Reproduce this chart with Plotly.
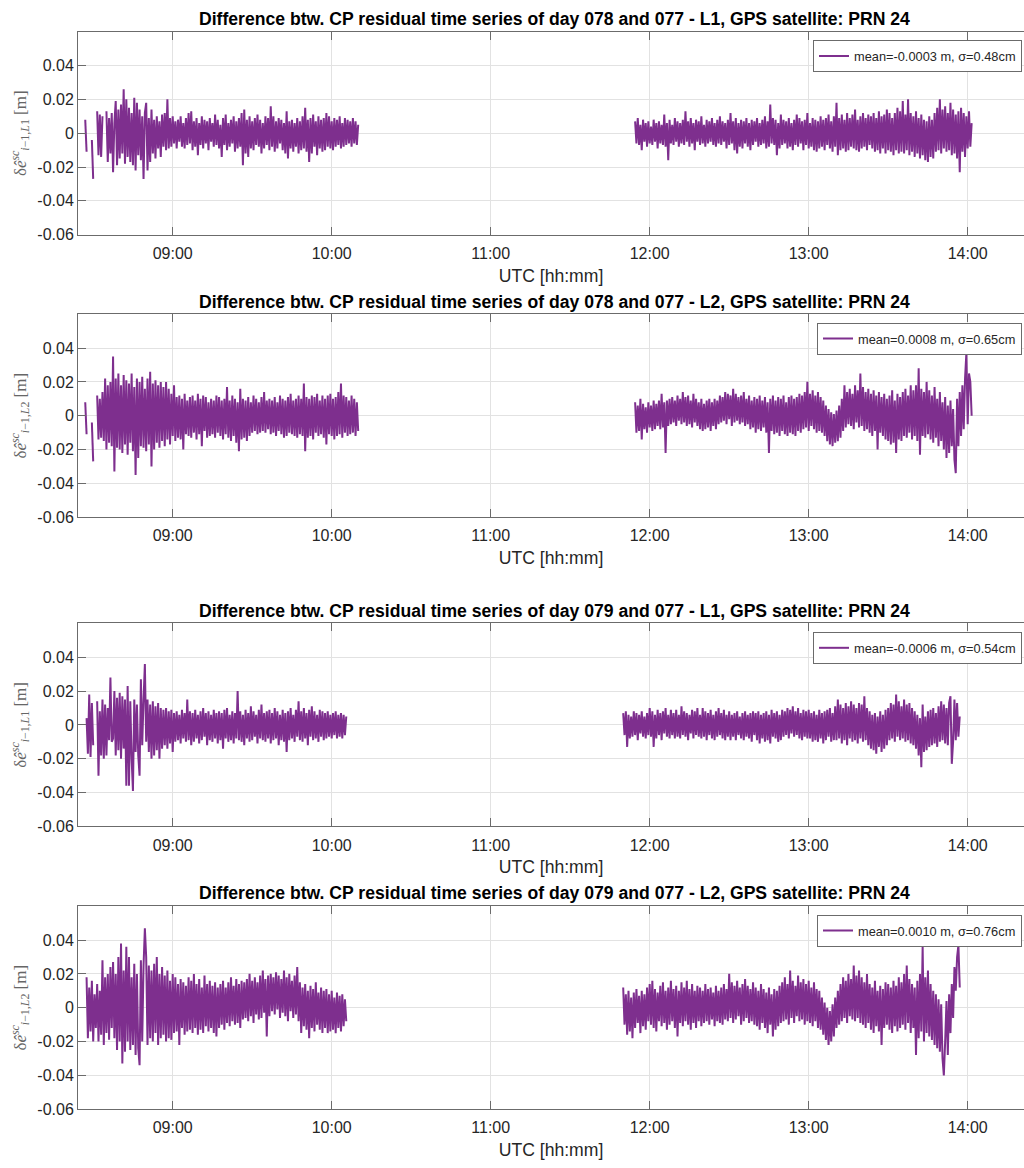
import numpy as np
import pandas as pd
import plotly.graph_objects as go

DAY = "2019-03-19"
STEP = "30s"

titles = [
    "Difference btw. CP residual time series of day 078 and 077 - L1, GPS satellite: PRN 24",
    "Difference btw. CP residual time series of day 078 and 077 - L2, GPS satellite: PRN 24",
    "Difference btw. CP residual time series of day 079 and 077 - L1, GPS satellite: PRN 24",
    "Difference btw. CP residual time series of day 079 and 077 - L2, GPS satellite: PRN 24",
]
legend_labels = [
    "mean=-0.0003 m, σ=0.48cm",
    "mean=0.0008 m, σ=0.65cm",
    "mean=-0.0006 m, σ=0.54cm",
    "mean=0.0010 m, σ=0.76cm",
]
signals = ["L1", "L2", "L1", "L2"]
x_title = "UTC [hh:mm]"
x_tick_labels = ["09:00", "10:00", "11:00", "12:00", "13:00", "14:00"]
y_tick_values = [-0.06, -0.04, -0.02, 0, 0.02, 0.04]
y_tick_labels = ["-0.06", "-0.04", "-0.02", "0", "0.02", "0.04"]

seg_a_start = ["08:27:00", "08:27:00", "08:27:30", "08:27:30"]
seg_b_start = ["11:54:30", "11:54:30", "11:50:00", "11:50:00"]

# residual differences in millimetres, one value every 30 s (None = no data)
p1_a = [8, -11, None, None, None, -4, -27, None, None, 13, -13, 11, -14, 10, None, None, 13, -17, 9, -12,
        12, -23, 6, 19, -19, 14, -15, 17, -12, 26, -18, 20, -14, 15, -17, 12, -19, 21, -22, 18,
        -13, 14, -16, 10, -27, 12, 18, -22, 9, -17, 14, -12, 8, -15, 10, -9, 7, -14, 11, -8,
        12, -10, 20, -9, 9, -8, 10, -6, 7, -9, 8, -5, 10, -8, 6, -9, 9, -7, 12, -6,
        13, -10, 7, -8, 9, -13, 6, -7, 10, -9, 8, -6, 7, -10, 9, -5, 6, -8, 11, -7,
        8, -9, 5, -14, 9, -7, 11, -10, 6, -8, 8, -6, 10, -11, 7, -9, 9, -8, 12, -19,
        14, -12, 8, -14, 10, -9, 7, -10, 9, -7, 11, -8, 8, -12, 6, -9, 10, -7, 9, -10,
        16, -8, 10, -11, 7, -9, 9, -6, 8, -10, 6, -12, 13, -15, 7, -9, 8, -11, 6, -8,
        9, -12, 7, -10, 10, -9, 15, -11, 8, -17, 9, -12, 11, -8, 7, -13, 10, -9, 8, -11,
        9, -10, 12, -8, 10, -9, 7, -10, 9, -8, 8, -7, 10, -9, 6, -8, 9, -7, 8, -6,
        7, -8, 9, -6, 7, -7, 5]
p1_b = [7, -6, 9, -7, 5, -10, 8, -5, 6, -8, 7, -6, 4, -7, 8, -5, 6, -9, 7, -6,
        5, -7, 11, -8, 6, -16, 8, -6, 5, -7, 9, -5, 7, -8, 6, -6, 8, -7, 13, -5,
        7, -8, 9, -6, 6, -10, 8, -5, 7, -7, 10, -6, 5, -8, 8, -6, 7, -5, 9, -7,
        6, -8, 8, -6, 10, -7, 7, -5, 6, -9, 8, -7, 12, -6, 7, -10, 9, -12, 6, -8,
        8, -9, 7, -6, 9, -8, 6, -10, 8, -7, 7, -5, 9, -8, 6, -7, 8, -6, 10, -9,
        7, -8, 17, -6, 9, -7, 8, -13, 6, -9, 11, -7, 8, -6, 7, -9, 9, -8, 6, -10,
        8, -7, 11, -8, 9, -6, 7, -10, 8, -7, 12, -9, 6, -8, 9, -10, 8, -11, 7, -9,
        10, -8, 8, -10, 9, -7, 11, -9, 7, -11, 10, -8, 18, -13, 9, -10, 11, -9, 8, -11,
        12, -10, 9, -8, 11, -9, 14, -10, 8, -11, 10, -9, 12, -8, 9, -10, 11, -7, 10, -9,
        12, -11, 9, -10, 13, -12, 10, -9, 11, -12, 14, -10, 12, -11, 9, -13, 12, -10, 15, -12,
        13, -11, 19, -12, 11, -10, 20, -13, 12, -11, 10, -14, 13, -12, 9, -15, 11, -13, 8, -16,
        7, -17, 10, -14, 8, -15, 12, -11, 15, -10, 20, -12, 14, -9, 16, -11, 12, -10, 18, -13,
        14, -12, 11, -15, 13, -23, 15, -11, 12, -14, 10, -9, 13, -8, 6]

p2_a = [8, -11, None, None, None, -4, -27, None, None, 12, -14, 10, -13, 14, -15, 22, -20, 18, -16, 20,
        -18, 35, -33, 22, -19, 25, -20, 18, -22, 24, -17, 21, -23, 19, -16, 25, -21, 17, -35, 22,
        -25, 20, -18, 23, -19, 16, -21, 22, -17, 26, -30, 19, -20, 21, -16, 18, -19, 20, -15, 17,
        -18, 20, -14, 16, -17, 13, -12, 18, -15, 11, -13, 12, -14, 10, -20, 13, -11, 9, -12, 11,
        -13, 12, -10, 9, -14, 13, -11, 10, -18, 12, -9, 11, -13, 8, -12, 10, -11, 9, -13, 12,
        -10, 11, -12, 9, -14, 10, -11, 17, -13, 9, -15, 12, -12, 10, -16, 8, -21, 16, -14, 10,
        -13, 9, -15, 11, -12, 8, -10, 12, -9, 10, -11, 8, -10, 11, -9, 14, -10, 9, -8, 10,
        -11, 9, -10, 11, -12, 8, -9, 12, -11, 10, -13, 9, -12, 11, -10, 13, -11, 9, -12, 10,
        -13, 12, -11, 10, -12, 19, -21, 11, -13, 10, -12, 12, -14, 11, -10, 13, -12, 9, -11, 12,
        -13, 10, -17, 12, -11, 13, -12, 10, -14, 11, -12, 14, -11, 19, -13, 12, -10, 11, -12, 9,
        -11, 12, -10, 10, -12, 8, -9]
p2_b = [8, -10, 6, -9, 10, -14, 7, -8, 5, -10, 8, -7, 6, -9, 9, -8, 7, -6, 9, -8,
        13, -7, 8, -22, 9, -6, 10, -5, 11, -4, 9, -6, 12, -3, 10, -5, 14, -4, 11, -6,
        12, -5, 9, -7, 13, -4, 10, -6, 8, -8, 10, -9, 7, -8, 9, -7, 10, -9, 8, -6,
        10, -8, 9, -5, 12, -4, 11, -3, 14, -5, 13, -2, 12, -6, 16, -4, 13, -3, 11, -5,
        12, -4, 14, -6, 10, -5, 12, -8, 9, -7, 11, -10, 10, -8, 12, -9, 9, -7, 11, -10,
        8, -22, 10, -9, 12, -11, 9, -10, 11, -12, 10, -9, 12, -11, 8, -12, 11, -10, 12, -11,
        10, -12, 11, -9, 13, -10, 12, -8, 14, -7, 20, -9, 13, -6, 15, -8, 12, -10, 14, -9,
        11, -10, 9, -12, 6, -15, 4, -17, 2, -18, 1, -16, 3, -15, 6, -13, 10, -9, 18, -7,
        14, -5, 16, -6, 13, -8, 18, -4, 15, -7, 25, -6, 17, -9, 14, -8, 16, -10, 13, -12,
        15, -9, 12, -20, 14, -10, 11, -12, 13, -14, 10, -15, 12, -17, 15, -16, 9, -22, 13, -14,
        11, -15, 14, -12, 16, -13, 12, -10, 18, -14, 15, -12, 18, -15, 28, -23, 16, -12, 14, -13,
        20, -11, 15, -14, 12, -16, 17, -13, 10, -18, 14, -15, 8, -20, 11, -25, 6, -22, 9, -18,
        4, -26, -34, 10, -18, 14, -12, 18, -8, 22, 37, -5, 25, 20, 0]

p3_a = [4, -17, 18, -19, 13, -12, None, None, 14, -30, 8, -18, 15, -20, 12, -18, 10, -9, 28, -10,
        -8, 20, -18, 16, -15, 19, -20, 17, -14, 15, -36, 23, -36, 14, -20, -39, 15, -16, 12, -18,
        -30, 27, -12, 15, 36, -10, 15, -16, 12, -20, 14, -18, 11, -15, 13, -20, 10, -14, 9, -12,
        10, -14, 8, -11, 9, -16, 7, -10, 8, -9, 6, -11, 9, -8, 7, -10, 15, -9, 8, -12,
        7, -10, 9, -8, 6, -11, 8, -9, 10, -7, 7, -12, 8, -9, 6, -10, 9, -8, 7, -11,
        8, -9, 7, -14, 9, -8, 10, -10, 6, -9, 8, -11, 7, -8, 20, -9, 8, -10, 6, -12,
        9, -8, 7, -10, 11, -9, 8, -7, 6, -11, 9, -8, 12, -9, 7, -10, 8, -8, 9, -11,
        7, -9, 10, -8, 8, -12, 6, -9, 9, -10, 7, -16, 8, -9, 10, -8, 6, -10, 9, -7,
        14, -9, 8, -10, 10, -8, 7, -12, 9, -7, 11, -9, 8, -8, 6, -10, 9, -7, 8, -9,
        7, -8, 8, -7, 6, -8, 7, -6, 8, -8, 6, -7, 7, -8, 6, -6, 5]
p3_b = [7, -6, 8, -13, 6, -8, 5, -7, 8, -6, 7, -9, 6, -5, 8, -7, 5, -8, 7, -6,
        10, -7, 8, -13, 6, -8, 9, -6, 7, -9, 8, -5, 10, -7, 6, -8, 9, -6, 7, -8,
        9, -7, 6, -8, 11, -6, 8, -7, 7, -9, 6, -5, 9, -8, 8, -6, 10, -7, 6, -8,
        10, -7, 8, -9, 7, -6, 9, -8, 6, -9, 8, -7, 10, -6, 7, -8, 9, -9, 6, -7,
        8, -9, 6, -7, 7, -9, 8, -6, 5, -8, 7, -9, 8, -7, 6, -8, 7, -10, 8, -6,
        7, -9, 8, -11, 6, -8, 7, -10, 8, -9, 6, -11, 9, -7, 7, -8, 8, -10, 6, -9,
        9, -7, 8, -6, 10, -8, 9, -5, 11, -7, 8, -6, 10, -8, 7, -9, 9, -7, 8, -8,
        9, -8, 7, -10, 8, -9, 6, -10, 9, -8, 7, -11, 8, -9, 9, -7, 10, -10, 7, -9,
        11, -9, 15, -8, 12, -11, 10, -9, 13, -12, 11, -8, 14, -10, 12, -9, 10, -11, 13, -8,
        12, -10, 17, -9, 10, -12, 8, -14, 6, -15, 7, -17, 5, -13, 8, -16, 6, -14, 9, -12,
        10, -9, 13, -8, 12, -10, 18, -7, 14, -9, 11, -8, 15, -10, 12, -9, 13, -11, 10, -12,
        8, -14, 6, -18, 4, -25, 12, -16, 5, -15, 8, -13, 9, -12, 10, -11, 7, -13, 11, -10,
        14, -9, 12, -11, 10, -12, 13, 17, -23, -10, 15, -9, 13, -7, 5]

p4_a = [18, -18, 12, -14, 16, -20, 8, -12, 14, -20, 10, -16, 28, -22, 18, -15, 20, -19, 24, -12,
        27, -18, 20, -25, 30, -20, 38, -33, 22, -26, 36, -20, 30, -25, 18, -22, 26, -28, 20, -24,
        -34, 28, -20, 25, 47, 30, -22, 25, -18, 22, -20, 26, -15, 30, -22, 20, -18, 24, -16, 19,
        -20, 22, -18, 16, -19, 20, -15, 18, -14, 14, -22, 17, -12, 15, -16, 13, -14, 18, -13, 16,
        -15, 20, -12, 14, -16, 17, -13, 12, -15, 19, -11, 14, -14, 16, -12, 13, -15, 15, -17, 12,
        -12, 14, -10, 16, -13, 12, -9, 15, -11, 18, -8, 13, -10, 17, -9, 14, -12, 16, -7, 15,
        -6, 17, -8, 20, -5, 16, -9, 18, -4, 15, -7, 19, -6, 22, -3, 17, -17, 19, -5, 20,
        -2, 18, -4, 21, -1, 19, -6, 17, -3, 22, -5, 18, -8, 20, -2, 16, -6, 19, -4, 24,
        -8, 15, -15, 12, -11, 14, -13, 10, -18, 13, -12, 11, -14, 15, -10, 9, -13, 12, -15, 10,
        -12, 11, -15, 8, -14, 10, -13, 6, -15, 9, -12, 7, -14, 8, -11, 5, -8]
p4_b = [12, -10, 8, -16, 10, -14, 6, -18, 9, -12, 11, -9, 7, -15, 10, -11, 8, -13, 12, -8,
        14, -10, 16, -12, 11, -14, 9, -8, 13, -11, 15, -9, 10, -13, 12, -10, 16, -8, 11, -12,
        13, -17, 10, -9, 15, -11, 12, -8, 16, -10, 11, -13, 14, -9, 10, -12, 13, -8, 12, -11,
        10, -9, 14, -8, 11, -10, 12, -7, 9, -11, 13, -8, 10, -9, 12, -10, 14, -7, 11, -8,
        20, -6, 15, -9, 13, -7, 16, -5, 12, -10, 14, -8, 17, -6, 13, -9, 11, -8, 15, -10,
        12, -11, 10, -13, 14, -9, 11, -12, 9, -15, 12, -10, 8, -17, 11, -13, 10, -11, 13, -9,
        15, -8, 18, -7, 14, -10, 22, -6, 16, -9, 13, -5, 19, -8, 15, -7, 17, -10, 14, -8,
        16, -9, 12, -11, 15, -8, 11, -12, 10, -13, 6, -16, 3, -19, 0, -22, -2, -20, 2, -17,
        6, -12, 10, -10, 14, -8, 18, -6, 16, -9, 20, -5, 17, -7, 25, -8, 19, -6, 22, -9,
        18, -10, 15, -12, 20, -9, 14, -13, 12, -15, 16, -11, 10, -14, 13, -22, 11, -12, 15, -10,
        14, -13, 12, -15, 16, -11, 13, -14, 18, -12, 15, -10, 20, -13, 25, -9, 17, -15, 14, -12,
        12, -28, 16, -18, 20, -14, 36, -20, 18, -15, 22, -17, 14, -19, 10, -22, 8, -24, 5, -26,
        2, -30, -40, -20, 4, -28, 8, -15, 14, -6, 24, 10, 30, 37, 12]

series_a = [p1_a, p2_a, p3_a, p4_a]
series_b = [p1_b, p2_b, p3_b, p4_b]

# ---------------- styling / layout ----------------
W, H = 1024, 1168
FONT = "Liberation Sans, Arial, Helvetica, sans-serif"
SERIF = "Liberation Serif, Times New Roman, serif"
LINE_COLOR = "#7E2F8E"
AX_COLOR = "#6b6b6b"
GRID_COLOR = "#e2e2e2"
TEXT_COLOR = "#262626"

panel_top_px = [32, 316.7, 628.3, 913.3]
panel_h_px = 204.5
title_y_px = [19, 304, 615.5, 900.3]
plot_left_px = 78
axis_center_px = 554.5


def py(p):
    return 1 - p / H


fig = go.Figure()
annotations = []
layout = dict(
    width=W, height=H,
    margin=dict(l=0, r=0, t=0, b=0),
    paper_bgcolor="white", plot_bgcolor="white",
    font=dict(family=FONT, color=TEXT_COLOR),
    showlegend=True,
)

for k in range(4):
    sfx = "" if k == 0 else str(k + 1)
    a_vals = series_a[k] + [None]
    b_vals = series_b[k]
    ta = pd.date_range(f"{DAY} {seg_a_start[k]}", periods=len(a_vals), freq=STEP)
    tb = pd.date_range(f"{DAY} {seg_b_start[k]}", periods=len(b_vals), freq=STEP)
    x = list(ta.strftime("%Y-%m-%d %H:%M:%S")) + list(tb.strftime("%Y-%m-%d %H:%M:%S"))
    y = np.array(a_vals + b_vals, dtype=float) / 1000.0

    fig.add_trace(go.Scatter(
        x=x, y=y, mode="lines",
        line=dict(color=LINE_COLOR, width=2.0, simplify=False),
        name=legend_labels[k],
        xaxis="x" + sfx, yaxis="y" + sfx,
        legend="legend" + sfx,
        showlegend=True,
    ))

    top = panel_top_px[k]
    bot = top + panel_h_px
    ylab = (f"δ<i>ê</i><sup><i>sc</i></sup><sub><i>i</i>−1,<i>{signals[k][0]}</i>"
            f"{signals[k][1]}</sub> [m]")
    layout["xaxis" + sfx] = dict(
        domain=[plot_left_px / W, 1], anchor="y" + sfx, type="date",
        range=[f"{DAY} 08:24:16", f"{DAY} 14:21:15"],
        tickmode="array",
        tickvals=[f"{DAY} {t}:00" for t in x_tick_labels],
        ticktext=x_tick_labels,
        showgrid=True, gridcolor=GRID_COLOR, gridwidth=1,
        ticks="inside", ticklen=8, tickwidth=1, tickcolor=AX_COLOR,
        ticklabelstandoff=4,
        showline=True, linecolor=AX_COLOR, linewidth=1, mirror="ticks",
        zeroline=False,
        tickfont=dict(size=16, color=TEXT_COLOR, family=FONT),
        title=dict(text=x_title, standoff=8,
                   font=dict(size=17.6, color=TEXT_COLOR, family=FONT)),
    )
    layout["yaxis" + sfx] = dict(
        domain=[py(bot), py(top)], anchor="x" + sfx,
        range=[-0.06, 0.06],
        tickmode="array", tickvals=y_tick_values, ticktext=y_tick_labels,
        showgrid=True, gridcolor=GRID_COLOR, gridwidth=1,
        ticks="inside", ticklen=8, tickwidth=1, tickcolor=AX_COLOR,
        showline=True, linecolor=AX_COLOR, linewidth=1, mirror=False,
        zeroline=False,
        tickfont=dict(size=16, color=TEXT_COLOR, family=FONT),
        title=dict(text=ylab, standoff=6,
                   font=dict(size=17, color="#666666", family=SERIF)),
    )
    layout["legend" + sfx] = dict(
        x=1022 / W, xanchor="right", y=py(top + 8.6), yanchor="top",
        bgcolor="white", bordercolor=AX_COLOR, borderwidth=1,
        font=dict(size=12.8, color=TEXT_COLOR, family=FONT),
        tracegroupgap=0,
    )

    annotations.append(dict(
        text=f"<b>{titles[k]}</b>", xref="paper", yref="paper",
        x=axis_center_px / W, y=py(title_y_px[k]), xanchor="center", yanchor="middle",
        showarrow=False, font=dict(size=17.6, color="black", family=FONT),
    ))

layout["annotations"] = annotations
fig.update_layout(**layout)
fig.write_html("out.html")
